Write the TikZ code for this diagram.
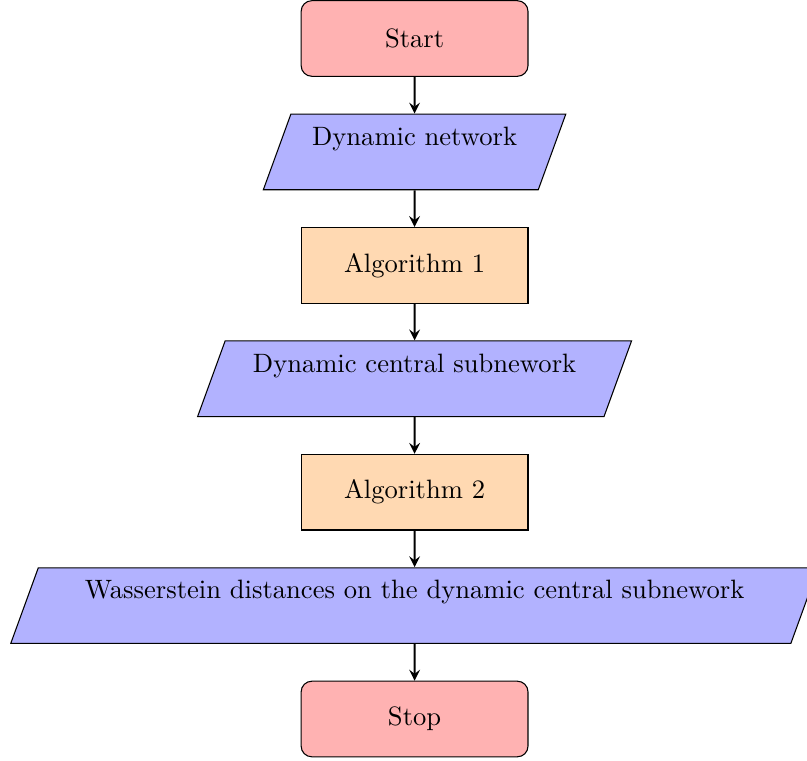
\documentclass[tikz,border=0pt]{standalone}
\usetikzlibrary{arrows,shapes.geometric}

\begin{document}
\begin{tikzpicture}[->,>=stealth,thick,node distance=1.5cm]
        \tikzstyle{startstop}=[rectangle,rounded corners,minimum width=3cm,minimum height=1cm,text centered,draw=black,thin,fill=red!30]
        \tikzstyle{io}=[trapezium,trapezium left angle=70,trapezium right angle=110,minimum width=3cm,minimum height=1cm,align=center,draw=black,thin,fill=blue!30]
        \tikzstyle{process}=[rectangle,minimum width=3cm,minimum height=1cm,text centered,draw=black,thin,fill=orange!30]
        \useasboundingbox (-5.483,0.509) rectangle (5.19,-9.544);
        \node[startstop] (start)                    {Start};
        \node[io]        (in1)   [below of=start]   {Dynamic network\\};
        \node[process]   (pro1)  [below of=in1]     {Algorithm 1};
        \node[io]        (out1)  [below of=pro1]    {Dynamic central subnework\\};
        \node[process]   (pro2)  [below of=out1]    {Algorithm 2};
        \node[io]        (out2)  [below of=pro2]    {Wasserstein distances on the dynamic central subnework\\};
        \node[startstop] (stop)  [below of=out2]    {Stop};

        \path (start) edge (in1)
              (in1)   edge (pro1)
              (pro1)  edge (out1)
              (out1)  edge (pro2)
              (pro2)  edge (out2)
              (out2)  edge (stop);
\end{tikzpicture}
\end{document}
